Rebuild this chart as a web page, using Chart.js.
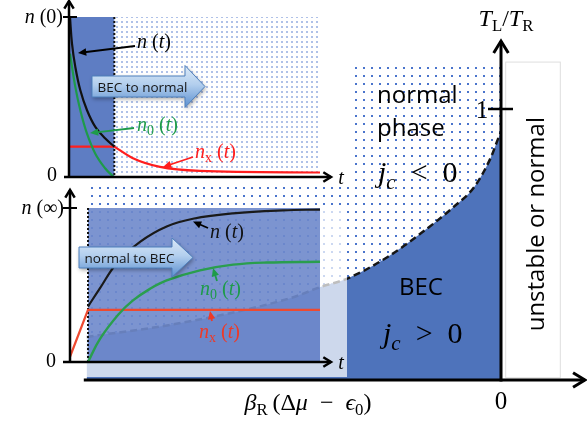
<!DOCTYPE html>
<html><head><meta charset="utf-8">
<script src="https://cdn.jsdelivr.net/npm/chart.js@4/dist/chart.umd.min.js"></script>
<style>
html,body{margin:0;padding:0;background:#fff;}
#wrap{position:relative;width:587px;height:422px;overflow:hidden;background:#fff;}
#wrap canvas{position:absolute;}
</style></head><body>
<div id="wrap">
<canvas id="main" width="587" height="422" style="left:0;top:0;width:587px;height:422px"></canvas>
<canvas id="inTop" width="350" height="186" style="left:0;top:0;width:350px;height:186px"></canvas>
<canvas id="inBot" width="360" height="195" style="left:0;top:185px;width:360px;height:195px"></canvas>
</div>
<script>
// ---------- DATA ----------
// Main phase diagram: x = βR(Δμ − ε0), y = TL/TR
const boundaryX = [-2.96, -2.29, -1.50, -1.29, -1.09, -0.81, -0.57, -0.34, -0.19, -0.07, -0.024, 0];
const boundaryY = [0.159, 0.210, 0.303, 0.343, 0.376, 0.454, 0.542, 0.638, 0.713, 0.824, 0.886, 0.915];
const normalTop = 1.175;          // upper edge of the dotted "normal phase" region
const mainTicksY = [1];           // tick on TL/TR axis
const mainTicksX = [0];           // tick on x axis

// Top inset: BEC -> normal (t in switching-time units, n in units of n(0))
const topNT  = [0, 0.045, 0.12, 0.233, 0.384, 0.571, 0.797, 1.0];
const topNV  = [1.0, 0.834, 0.688, 0.542, 0.417, 0.313, 0.24, 0.19];
const topN0T = [0, 0.12, 0.233, 0.384, 0.571, 0.797, 0.948, 1.0, 5.64];
const topN0V = [0.771, 0.563, 0.417, 0.271, 0.146, 0.053, 0.01, 0, 0];
const topNxT = [0, 1.0, 1.42, 2.03, 2.93, 5.64];
const topNxV = [0.19, 0.19, 0.117, 0.063, 0.038, 0.028];

// Bottom inset: normal -> BEC (n in units of n(∞))
const botNT  = [1, 1.667, 2.59, 3.89, 5.37, 6.83, 9.06, 11.83, 13.89];
const botNV  = [0.36, 0.48, 0.64, 0.78, 0.88, 0.93, 0.965, 0.985, 0.99];
const botN0T = [1, 1.667, 2.7, 3.5, 4.44, 5.37, 7.22, 9.06, 10.93, 13.89];
const botN0V = [0, 0.15, 0.31, 0.40, 0.475, 0.53, 0.595, 0.632, 0.646, 0.651];
const botNxT = [0, 1, 13.89];
const botNxV = [0.034, 0.338, 0.338];

// ---------- HELPERS ----------
const SERIF = '"Liberation Serif","DejaVu Serif",serif';
const SANS = '"Open Sans","Liberation Sans",sans-serif';
const pts = (xs, ys) => xs.map((x, i) => ({x, y: ys[i]}));

function mathText(ctx, runs, x, y, size, color, align) {
  const fontFor = s => {
    const sub = s[0] === 's';
    const it = s[s.length - 1] === 'i';
    return (it ? 'italic ' : '') + (sub ? size * 0.7 : size).toFixed(1) + 'px ' + SERIF;
  };
  let w = 0;
  runs.forEach(([t, s]) => { ctx.font = fontFor(s); w += ctx.measureText(t).width; });
  let cx = align === 'center' ? x - w / 2 : align === 'right' ? x - w : x;
  ctx.save();
  ctx.fillStyle = color; ctx.textBaseline = 'alphabetic'; ctx.textAlign = 'left';
  runs.forEach(([t, s]) => {
    ctx.font = fontFor(s);
    const dy = s[0] === 's' ? size * 0.22 : 0;
    ctx.fillText(t, cx, y + dy);
    cx += ctx.measureText(t).width;
  });
  ctx.restore();
}
function sansText(ctx, t, x, y, size, align, color) {
  ctx.save(); ctx.font = size + 'px ' + SANS; ctx.fillStyle = color || '#111';
  ctx.textAlign = align || 'left'; ctx.textBaseline = 'alphabetic';
  ctx.fillText(t, x, y); ctx.restore();
}
function pointer(ctx, x0, y0, x1, y1, color, lw, head) {
  const a = Math.atan2(y1 - y0, x1 - x0);
  ctx.save(); ctx.strokeStyle = color; ctx.fillStyle = color; ctx.lineWidth = lw;
  ctx.beginPath(); ctx.moveTo(x0, y0);
  ctx.lineTo(x1 - Math.cos(a) * head * 0.7, y1 - Math.sin(a) * head * 0.7); ctx.stroke();
  ctx.beginPath(); ctx.moveTo(x1, y1);
  ctx.lineTo(x1 - head * Math.cos(a - 0.42), y1 - head * Math.sin(a - 0.42));
  ctx.lineTo(x1 - head * Math.cos(a + 0.42), y1 - head * Math.sin(a + 0.42));
  ctx.closePath(); ctx.fill(); ctx.restore();
}
function axisArrow(ctx, x0, y0, x1, y1, lw, head) {
  const a = Math.atan2(y1 - y0, x1 - x0);
  ctx.save(); ctx.strokeStyle = '#000'; ctx.lineWidth = lw; ctx.lineCap = 'butt';
  ctx.beginPath(); ctx.moveTo(x0, y0); ctx.lineTo(x1, y1); ctx.stroke();
  ctx.lineJoin = 'miter';
  ctx.beginPath();
  ctx.moveTo(x1 - head * Math.cos(a - 0.55), y1 - head * Math.sin(a - 0.55));
  ctx.lineTo(x1, y1);
  ctx.lineTo(x1 - head * Math.cos(a + 0.55), y1 - head * Math.sin(a + 0.55));
  ctx.stroke(); ctx.restore();
}
function blockArrow(ctx, x0, tip, headX, yc, bodyH, headH, text) {
  const p = new Path2D();
  p.moveTo(x0, yc - bodyH / 2); p.lineTo(headX, yc - bodyH / 2); p.lineTo(headX, yc - headH / 2);
  p.lineTo(tip, yc); p.lineTo(headX, yc + headH / 2); p.lineTo(headX, yc + bodyH / 2);
  p.lineTo(x0, yc + bodyH / 2); p.closePath();
  ctx.save();
  ctx.shadowColor = 'rgba(0,0,0,0.35)'; ctx.shadowBlur = 4; ctx.shadowOffsetX = 1; ctx.shadowOffsetY = 2;
  const g = ctx.createLinearGradient(0, yc - headH / 2, 0, yc + headH / 2);
  g.addColorStop(0, '#dbe9f7'); g.addColorStop(0.45, '#b3cfee'); g.addColorStop(1, '#5b8fcf');
  ctx.fillStyle = g; ctx.fill(p);
  ctx.shadowColor = 'transparent';
  ctx.strokeStyle = '#4f80bd'; ctx.lineWidth = 1; ctx.stroke(p);
  ctx.restore();
  sansText(ctx, text, (x0 + headX) / 2 + 4, yc + 5, 13.5, 'center', '#141414');
}
function makePattern(size, dot, color) {
  const c = document.createElement('canvas'); c.width = size; c.height = size;
  const g = c.getContext('2d'); g.fillStyle = color; g.fillRect(Math.floor(size / 2) - 1, Math.floor(size / 2) - 1, dot, dot);
  return document.getElementById('main').getContext('2d').createPattern(c, 'repeat');
}
const mainDots = makePattern(8, 2, '#4a74cc');
const insetDots = makePattern(5, 2, '#afc1e8');

const baseOpts = (xmin, xmax, ymin, ymax, pad) => ({
  responsive: false, animation: false, devicePixelRatio: 1, events: [],
  layout: {padding: pad},
  plugins: {legend: {display: false}, tooltip: {enabled: false}},
  elements: {point: {radius: 0}},
  scales: {
    x: {type: 'linear', min: xmin, max: xmax, display: false},
    y: {type: 'linear', min: ymin, max: ymax, display: false}
  }
});

// ---------- MAIN CHART ----------
const X_MIN = -501 / 140, X_MAX = 86 / 140;
const Y_MAX = 380 / 271, Y_MIN = Y_MAX - 422 / 271;
const mainDecor = {
  id: 'mainDecor',
  afterDatasetsDraw(chart) {
    const ctx = chart.ctx, xs = chart.scales.x, ys = chart.scales.y;
    const X = v => xs.getPixelForValue(v), Y = v => ys.getPixelForValue(v);
    // "unstable or normal" box
    ctx.save(); ctx.fillStyle = '#fff'; ctx.strokeStyle = '#dedede'; ctx.lineWidth = 1;
    ctx.fillRect(X(0.03), Y(normalTop), X(0.42) - X(0.03), Y(0.01) - Y(normalTop));
    ctx.strokeRect(X(0.03) + 0.5, Y(normalTop) + 0.5, X(0.42) - X(0.03), Y(0.01) - Y(normalTop));
    ctx.restore();
    ctx.save(); ctx.translate(X(0.25) + 8, Y(0.575)); ctx.rotate(-Math.PI / 2);
    sansText(ctx, 'unstable or normal', 0, 0, 24, 'center', '#000'); ctx.restore();
    // axes
    axisArrow(ctx, X(-2.98), Y(0), 585, Y(0), 3, 14);
    axisArrow(ctx, X(0), Y(0) + 1.5, X(0), 41, 3, 14);
    mainTicksY.forEach(v => {
      ctx.save(); ctx.strokeStyle = '#000'; ctx.lineWidth = 2.5;
      ctx.beginPath(); ctx.moveTo(X(0) - 13, Y(v)); ctx.lineTo(X(0) + 12, Y(v)); ctx.stroke(); ctx.restore();
      mathText(ctx, [[String(v), 'r']], X(0) - 19, Y(v) + 9, 25, '#000', 'center');
    });
    mainTicksX.forEach(v => mathText(ctx, [[String(v), 'r']], X(v), 409, 25, '#000', 'center'));
    mathText(ctx, [['T', 'i'], ['L', 'sr'], ['/', 'r'], ['T', 'i'], ['R', 'sr']], 506, 26, 24, '#000', 'center');
    mathText(ctx, [['β', 'i'], ['R', 'sr'], ['\u2009(', 'r'], ['Δ', 'r'], ['μ', 'i'], ['\u2002−\u2002', 'r'], ['ϵ', 'i'], ['0', 'sr'], [')', 'r']], 308, 410, 24, '#000', 'center');
    // region texts
    sansText(ctx, 'normal', 377, 103, 24, 'left', '#000');
    sansText(ctx, 'phase', 377, 136, 24, 'left', '#000');
    mathText(ctx, [['j', 'i'], ['c', 'si'], ['\u2002<\u20020', 'r']], 378, 182, 30, '#000', 'left');
    sansText(ctx, 'BEC', 399, 295, 24, 'left', '#000');
    mathText(ctx, [['j', 'i'], ['c', 'si'], ['\u2002>\u20020', 'r']], 383, 343, 30, '#000', 'left');
  }
};
new Chart(document.getElementById('main'), {
  type: 'line',
  data: {datasets: [
    {label: 'phase boundary', data: pts(boundaryX, boundaryY), borderColor: '#161616', borderWidth: 2.5,
     borderDash: [7, 4], fill: 'origin', backgroundColor: '#4e73bb', cubicInterpolationMode: 'monotone', clip: false},
    {label: 'normal phase', data: boundaryX.map(x => ({x, y: normalTop})), borderWidth: 0, borderColor: 'rgba(0,0,0,0)',
     fill: '-1', backgroundColor: mainDots, clip: false}
  ]},
  options: baseOpts(X_MIN, X_MAX, Y_MIN, Y_MAX, 0),
  plugins: [mainDecor]
});

// ---------- TOP INSET ----------
const TOP_TMAX = 5.64;
const topDecor = {
  id: 'topDecor',
  beforeDraw(chart) { const c = chart.ctx; c.save(); c.fillStyle = '#fff'; c.fillRect(0, 0, chart.width, chart.height); c.restore(); },
  beforeDatasetsDraw(chart) {
    const ctx = chart.ctx, xs = chart.scales.x, ys = chart.scales.y;
    const X = v => xs.getPixelForValue(v), Y = v => ys.getPixelForValue(v);
    ctx.save();
    ctx.fillStyle = '#5e7dc3'; ctx.fillRect(X(0), Y(1), X(1) - X(0), Y(0) - Y(1));
    ctx.fillStyle = insetDots; ctx.fillRect(X(1), Y(1), X(TOP_TMAX) - X(1), Y(0) - Y(1));
    ctx.strokeStyle = '#111'; ctx.lineWidth = 2; ctx.setLineDash([2, 2]);
    ctx.beginPath(); ctx.moveTo(X(1), Y(1)); ctx.lineTo(X(1), Y(0)); ctx.stroke();
    ctx.restore();
  },
  afterDatasetsDraw(chart) {
    const ctx = chart.ctx, xs = chart.scales.x, ys = chart.scales.y;
    const X = v => xs.getPixelForValue(v), Y = v => ys.getPixelForValue(v);
    axisArrow(ctx, X(0) - 1, Y(0) + 1, X(0) - 1, 1, 2.5, 9);
    axisArrow(ctx, 64, Y(0), 331, Y(0), 2.5, 9);
    ctx.save(); ctx.strokeStyle = '#000'; ctx.lineWidth = 2;
    ctx.beginPath(); ctx.moveTo(63, Y(1)); ctx.lineTo(77, Y(1)); ctx.stroke(); ctx.restore();
    mathText(ctx, [['n', 'i'], [' (', 'r'], ['0', 'r'], [')', 'r']], 63, Y(1) + 6, 20, '#000', 'right');
    mathText(ctx, [['0', 'r']], 52, Y(0) + 4, 20, '#000', 'center');
    mathText(ctx, [['t', 'i']], 341, Y(0) + 7, 20, '#000', 'center');
    blockArrow(ctx, 92, 205, 185, 86.5, 21, 42, 'BEC to normal');
    pointer(ctx, 135, 46, 78, 53, '#000', 1.8, 9);
    mathText(ctx, [['n', 'i'], [' (', 'r'], ['t', 'i'], [')', 'r']], 137, 48, 20, '#000', 'left');
    pointer(ctx, 134, 128, 90, 133, '#1e9b4a', 1.8, 9);
    mathText(ctx, [['n', 'i'], ['0', 'sr'], [' (', 'r'], ['t', 'i'], [')', 'r']], 137, 131, 20, '#1e9b4a', 'left');
    pointer(ctx, 193, 157, 163, 167, '#ff1e1e', 1.8, 9);
    mathText(ctx, [['n', 'i'], ['x', 'sr'], [' (', 'r'], ['t', 'i'], [')', 'r']], 195, 158, 20, '#ff1e1e', 'left');
  }
};
const lineDs = (label, d, color, w, mode) => Object.assign({label, data: d, borderColor: color, borderWidth: w, fill: false, clip: false},
  mode === 'mono' ? {cubicInterpolationMode: 'monotone'} : {tension: mode === 'straight' ? 0 : 0.4});
new Chart(document.getElementById('inTop'), {
  type: 'line',
  data: {datasets: [
    lineDs('n(t)', pts(topNT, topNV), '#111', 2.2),
    lineDs('n0(t)', pts(topN0T, topN0V), '#1e9b4a', 2.2),
    lineDs('nx(t) t<1', pts(topNxT.slice(0, 2), topNxV.slice(0, 2)), '#ff1e1e', 2.2, 'straight'),
    lineDs('nx(t) t>1', pts(topNxT.slice(1), topNxV.slice(1)), '#ff1e1e', 2.2, 'mono')
  ]},
  options: baseOpts(0, TOP_TMAX, 0, 1, {left: 70, right: 30, top: 17, bottom: 9}),
  plugins: [topDecor]
});

// ---------- BOTTOM INSET ----------
const BOT_TMAX = 13.89;
const botDecor = {
  id: 'botDecor',
  beforeDatasetsDraw(chart) {
    const ctx = chart.ctx, xs = chart.scales.x, ys = chart.scales.y;
    const X = v => xs.getPixelForValue(v), Y = v => ys.getPixelForValue(v);
    ctx.save();
    ctx.fillStyle = 'rgba(255,255,255,0.72)'; ctx.fillRect(85, Y(1) - 1, 347 - 85, 192 - Y(1) + 1);
    ctx.fillStyle = 'rgba(62,98,186,0.68)'; ctx.fillRect(X(1), Y(1), X(BOT_TMAX) - X(1), Y(0) - Y(1));
    ctx.strokeStyle = '#111'; ctx.lineWidth = 2; ctx.setLineDash([2, 2]);
    ctx.beginPath(); ctx.moveTo(X(1), Y(1)); ctx.lineTo(X(1), Y(0)); ctx.stroke();
    ctx.restore();
  },
  afterDatasetsDraw(chart) {
    const ctx = chart.ctx, xs = chart.scales.x, ys = chart.scales.y;
    const X = v => xs.getPixelForValue(v), Y = v => ys.getPixelForValue(v);
    axisArrow(ctx, X(0), Y(0) + 1, X(0), 5, 2.5, 9);
    axisArrow(ctx, 63, Y(0), 331, Y(0), 2.5, 9);
    ctx.save(); ctx.strokeStyle = '#000'; ctx.lineWidth = 2;
    ctx.beginPath(); ctx.moveTo(63, Y(1)); ctx.lineTo(77, Y(1)); ctx.stroke(); ctx.restore();
    mathText(ctx, [['n', 'i'], [' (', 'r'], ['∞', 'r'], [')', 'r']], 64, Y(1) + 6, 20, '#000', 'right');
    mathText(ctx, [['0', 'r']], 51, Y(0) + 5, 20, '#000', 'center');
    mathText(ctx, [['t', 'i']], 341, Y(0) + 7, 20, '#000', 'center');
    blockArrow(ctx, 79, 193, 172, 72.5, 21, 39, 'normal to BEC');
    pointer(ctx, 208, 43, 193, 36.5, '#000', 1.8, 9);
    mathText(ctx, [['n', 'i'], [' (', 'r'], ['t', 'i'], [')', 'r']], 210, 53, 20, '#111', 'left');
    pointer(ctx, 217, 96, 213, 83, '#1e9b4a', 1.8, 9);
    mathText(ctx, [['n', 'i'], ['0', 'sr'], [' (', 'r'], ['t', 'i'], [')', 'r']], 200, 110, 20, '#1e9b4a', 'left');
    pointer(ctx, 212, 136, 210, 126, '#ee3a28', 1.8, 9);
    mathText(ctx, [['n', 'i'], ['x', 'sr'], [' (', 'r'], ['t', 'i'], [')', 'r']], 199, 153, 20, '#ee3a28', 'left');
  }
};
new Chart(document.getElementById('inBot'), {
  type: 'line',
  data: {datasets: [
    lineDs('n(t)', pts(botNT, botNV), '#1a1a1a', 2.2),
    lineDs('n0(t)', pts(botN0T, botN0V), '#2a9e4e', 2.4),
    lineDs('nx(t)', pts(botNxT, botNxV), '#ee4a30', 2.2, 'straight')
  ]},
  options: baseOpts(0, BOT_TMAX, 0, 1, {left: 70, right: 40, top: 23, bottom: 18}),
  plugins: [botDecor]
});
</script>
</body></html>
